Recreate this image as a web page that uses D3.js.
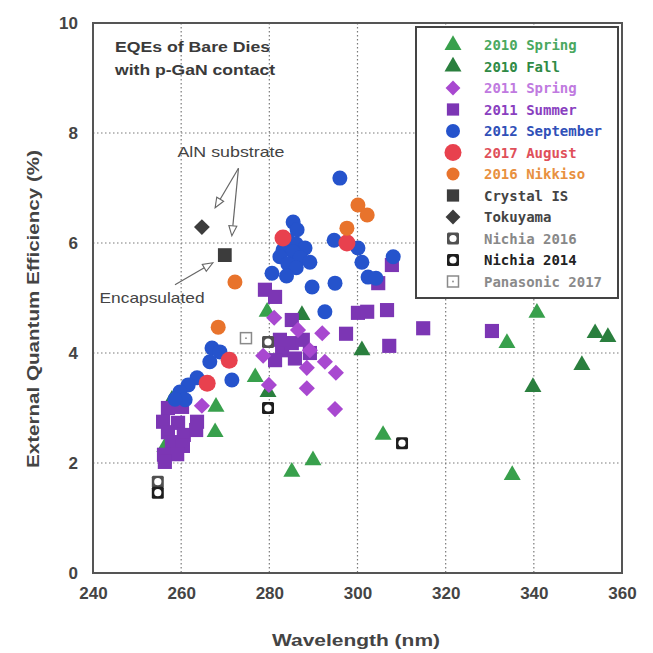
<!DOCTYPE html>
<html><head><meta charset="utf-8">
<script src="https://cdn.jsdelivr.net/npm/d3@7"></script>
<style>body{margin:0;background:#fff}</style></head>
<body><svg id="chart" width="653" height="653"></svg>
<script>
// ---- data ----
const xTicks = [240, 260, 280, 300, 320, 340, 360];
const yTicks = [0, 2, 4, 6, 8, 10];

const spring2010 = [[256.3,2.29],[267.9,3.02],[267.7,2.56],[276.8,3.56],[279.5,4.75],[285.1,1.84],[289.9,2.05],[305.8,2.51],[333.9,4.18],[340.7,4.73],[335.1,1.78]];
const fall2010 = [[257.9,3.15],[279.7,3.29],[287.4,4.69],[301.0,4.05],[339.8,3.38],[350.9,3.78],[353.9,4.36],[356.8,4.29]];
const spring2011 = [[264.7,3.04],[278.6,3.95],[279.9,3.42],[281.1,4.64],[286.5,4.42],[288.5,3.73],[288.5,3.36],[292.0,4.36],[292.6,3.84],[295.1,3.64],[294.9,2.98],[289.2,4.05]];
const summer2011 = [[257.0,3.0],[260.2,3.02],[255.9,2.75],[259.3,2.73],[263.6,2.75],[257.0,2.56],[260.6,2.51],[263.4,2.6],[257.9,2.38],[260.4,2.31],[256.1,2.15],[259.1,2.16],[256.3,2.02],
  [279.0,5.15],[281.3,5.02],[285.1,4.6],[282.9,4.05],[281.3,3.87],[285.1,4.18],[289.2,4.0],[287.6,4.24],[282.4,4.24],[285.8,3.9],[297.4,4.35],[300.1,4.73],[302.2,4.75],[306.7,4.78],[307.2,4.13],[307.8,5.6],[304.7,5.27],[314.9,4.45],[330.5,4.4]];
const september2012 = [[267.0,4.09],[268.8,4.02],[266.5,3.84],[271.5,3.51],[263.6,3.55],[261.6,3.42],[259.7,3.29],[260.9,3.15],[258.6,3.16],
  [296.0,7.18],[285.4,6.38],[286.3,6.24],[284.2,6.05],[286.1,5.98],[288.1,5.91],[283.1,5.87],[285.4,5.84],[287.0,5.73],[282.4,5.75],[289.2,5.65],[284.2,5.62],[286.1,5.55],[280.6,5.45],[283.9,5.4],[289.7,5.2],[294.9,5.27],[292.6,4.75],
  [294.7,6.05],[300.1,5.91],[301.0,5.65],[302.4,5.38],[304.2,5.36],[308.1,5.75]];
const august2017 = [[283.1,6.09],[297.6,6.0],[270.9,3.87],[265.9,3.45]];
const nikkiso2016 = [[272.2,5.29],[268.4,4.47],[300.1,6.69],[302.2,6.51],[297.6,6.27]];
const crystalIS = [[269.9,5.78]];
const tokuyama = [[264.7,6.29]];
const nichia2016 = [[254.7,1.66],[279.7,4.2]];
const nichia2014 = [[254.7,1.46],[279.7,3.0],[310.1,2.36]];
const panasonic2017 = [[274.7,4.27]];

const seriesNames = ["2010 Spring","2010 Fall","2011 Spring","2011 Summer","2012 September","2017 August","2016 Nikkiso","Crystal IS","Tokuyama","Nichia 2016","Nichia 2014","Panasonic 2017"];

// ---- layout ----
const svg = d3.select("#chart");
const x = d3.scaleLinear().domain([240, 360]).range([93, 622]);
const y = d3.scaleLinear().domain([0, 10]).range([573, 23]);
const txt = "#3a3a3a";

// grid
const g = svg.append("g");
g.selectAll(".vg").data(xTicks.slice(1, -1)).join("line")
  .attr("x1", d => x(d)).attr("x2", d => x(d)).attr("y1", y(10)).attr("y2", y(0))
  .attr("stroke", "#7a7a7a").attr("stroke-width", 1.2).attr("stroke-dasharray", "1.5,2.5");
g.selectAll(".hg").data(yTicks.slice(1, -1)).join("line")
  .attr("x1", x(240)).attr("x2", x(360)).attr("y1", d => y(d)).attr("y2", d => y(d))
  .attr("stroke", "#7a7a7a").attr("stroke-width", 1.2).attr("stroke-dasharray", "1.5,2.5");

// axes labels via d3 axes
const xAxis = svg.append("g").attr("transform", `translate(0,${y(0)})`)
  .call(d3.axisBottom(x).tickValues(xTicks).tickSize(0).tickPadding(14));
const yAxis = svg.append("g").attr("transform", `translate(${x(240)},0)`)
  .call(d3.axisLeft(y).tickValues(yTicks).tickSize(0).tickPadding(15));
[xAxis, yAxis].forEach(a => {
  a.select(".domain").remove();
  a.selectAll("text").attr("font-family", "Liberation Sans, Arial, sans-serif")
    .attr("font-weight", "bold").attr("font-size", 17).attr("fill", "#444");
});

// frame
svg.append("rect").attr("x", x(240)).attr("y", y(10)).attr("width", x(360) - x(240)).attr("height", y(0) - y(10))
  .attr("fill", "none").attr("stroke", "#555").attr("stroke-width", 2);

// axis titles
svg.append("text").attr("x", 356).attr("y", 646).attr("text-anchor", "middle")
  .attr("font-family", "Liberation Sans, Arial, sans-serif").attr("font-weight", "bold").attr("font-size", 17)
  .attr("fill", "#444").attr("textLength", 168).attr("lengthAdjust", "spacingAndGlyphs").text("Wavelength (nm)");
svg.append("text").attr("transform", "translate(39,309) rotate(-90)").attr("text-anchor", "middle")
  .attr("font-family", "Liberation Sans, Arial, sans-serif").attr("font-weight", "bold").attr("font-size", 17)
  .attr("fill", "#444").attr("textLength", 318).attr("lengthAdjust", "spacingAndGlyphs").text("External Quantum Efficiency (%)");

// ---- markers ----
const pts = svg.append("g");
function tri(data, color, s) {
  pts.selectAll(null).data(data).join("path")
    .attr("d", d3.symbol(d3.symbolTriangle, s || 125))
    .attr("transform", d => `translate(${x(d[0])},${y(d[1])})`).attr("fill", color);
}
function sq(data, color, s) {
  pts.selectAll(null).data(data).join("path")
    .attr("d", d3.symbol(d3.symbolSquare, s || 200))
    .attr("transform", d => `translate(${x(d[0])},${y(d[1])})`).attr("fill", color);
}
function dia(data, color, s) {
  pts.selectAll(null).data(data).join("path")
    .attr("d", d3.symbol(d3.symbolSquare, s || 130))
    .attr("transform", d => `translate(${x(d[0])},${y(d[1])}) rotate(45)`).attr("fill", color);
}
function circ(data, color, r) {
  pts.selectAll(null).data(data).join("circle")
    .attr("cx", d => x(d[0])).attr("cy", d => y(d[1])).attr("r", r).attr("fill", color);
}
function nichia(data, color) {
  const gg = pts.selectAll(null).data(data).join("g")
    .attr("transform", d => `translate(${x(d[0])},${y(d[1])})`);
  gg.append("rect").attr("x", -6).attr("y", -6).attr("width", 12).attr("height", 12).attr("rx", 1.5).attr("fill", color);
  gg.append("circle").attr("r", 3.6).attr("fill", "#fff");
}
function pana(data) {
  const gg = pts.selectAll(null).data(data).join("g")
    .attr("transform", d => `translate(${x(d[0])},${y(d[1])})`);
  gg.append("rect").attr("x", -5.5).attr("y", -5.5).attr("width", 11).attr("height", 11).attr("fill", "#fff")
    .attr("stroke", "#8a8a8a").attr("stroke-width", 1.5);
  gg.append("circle").attr("r", 0.9).attr("fill", "#8a8a8a");
}

const C = {
  sp10: "#38a04c", fa10: "#2a7f3e", sp11: "#a848d0", su11: "#7c36b4",
  se12: "#2553cc", au17: "#e8414e", nk16: "#e8732c", cis: "#3c3c3c", tok: "#3c3c3c",
  n16: "#505050", n14: "#1e1e1e"
};

tri(spring2010, C.sp10);
tri(fall2010, C.fa10);
sq(summer2011, C.su11);
dia(spring2011, C.sp11);
circ(september2012, C.se12, 7.5);
circ(august2017, C.au17, 8.5);
circ(nikkiso2016, C.nk16, 7.5);
sq(crystalIS, C.cis, 190);
dia(tokuyama, C.tok, 125);
nichia(nichia2016, C.n16);
nichia(nichia2014, C.n14);
pana(panasonic2017);

// ---- annotations ----
const ann = svg.append("g").attr("font-family", "Liberation Sans, Arial, sans-serif").attr("fill", txt);
ann.append("text").attr("x", x(245)).attr("y", y(9.56) + 5).attr("font-weight", "bold").attr("font-size", 14.5)
  .attr("textLength", 155).attr("lengthAdjust", "spacingAndGlyphs").text("EQEs of Bare Dies");
ann.append("text").attr("x", x(245)).attr("y", y(9.15) + 5).attr("font-weight", "bold").attr("font-size", 14.5)
  .attr("textLength", 160).attr("lengthAdjust", "spacingAndGlyphs").text("with p-GaN contact");
ann.append("text").attr("x", x(271.3)).attr("y", y(7.65) + 5).attr("text-anchor", "middle").attr("font-size", 15)
  .attr("fill", "#444").attr("textLength", 107).attr("lengthAdjust", "spacingAndGlyphs").text("AlN substrate");
ann.append("text").attr("x", x(253.4)).attr("y", y(5.0) + 5).attr("text-anchor", "middle").attr("font-size", 15)
  .attr("fill", "#444").attr("textLength", 105).attr("lengthAdjust", "spacingAndGlyphs").text("Encapsulated");

const arrows = [
  [[273.0, 7.36], [267.7, 6.64]],
  [[273.0, 7.36], [271.5, 6.13]],
  [[258.6, 5.24], [267.2, 5.64]]
];
arrows.forEach(([a, b]) => {
  const x1 = x(a[0]), y1 = y(a[1]), x2 = x(b[0]), y2 = y(b[1]);
  const ang = Math.atan2(y2 - y1, x2 - x1);
  const L = 10, W = 4;
  const bx = x2 - L * Math.cos(ang), by = y2 - L * Math.sin(ang);
  ann.append("line").attr("x1", x1).attr("y1", y1).attr("x2", bx).attr("y2", by)
    .attr("stroke", "#666").attr("stroke-width", 1.2);
  const p = [[x2, y2], [bx + W * Math.sin(ang), by - W * Math.cos(ang)], [bx - W * Math.sin(ang), by + W * Math.cos(ang)]];
  ann.append("path").attr("d", "M" + p.map(q => q.join(",")).join("L") + "Z")
    .attr("fill", "#fff").attr("stroke", "#666").attr("stroke-width", 1.1);
});

// ---- legend ----
const lg = svg.append("g");
lg.append("rect").attr("x", 416).attr("y", 27).attr("width", 202).attr("height", 271)
  .attr("fill", "#fff").attr("stroke", "#444").attr("stroke-width", 2);
const legendColors = ["#4aa860", "#2f8a45", "#c07ae0", "#8a3fc0", "#3050b8", "#e0505a", "#e89040", "#444", "#444", "#888", "#222", "#8a8a8a"];
const rowY = i => 45 + i * 21.5;
seriesNames.forEach((name, i) => {
  const cy = rowY(i), cx = 453;
  const m = lg.append("g").attr("transform", `translate(${cx},${cy})`);
  if (i === 0) m.append("path").attr("d", d3.symbol(d3.symbolTriangle, 125)).attr("fill", C.sp10);
  if (i === 1) m.append("path").attr("d", d3.symbol(d3.symbolTriangle, 125)).attr("fill", C.fa10);
  if (i === 2) m.append("path").attr("d", d3.symbol(d3.symbolSquare, 110)).attr("transform", "rotate(45)").attr("fill", C.sp11);
  if (i === 3) m.append("path").attr("d", d3.symbol(d3.symbolSquare, 150)).attr("fill", C.su11);
  if (i === 4) m.append("circle").attr("r", 7).attr("fill", C.se12);
  if (i === 5) m.append("circle").attr("r", 8.5).attr("fill", C.au17);
  if (i === 6) m.append("circle").attr("r", 6.5).attr("fill", C.nk16);
  if (i === 7) m.append("path").attr("d", d3.symbol(d3.symbolSquare, 150)).attr("fill", C.cis);
  if (i === 8) m.append("path").attr("d", d3.symbol(d3.symbolSquare, 110)).attr("transform", "rotate(45)").attr("fill", C.tok);
  if (i === 9 || i === 10) {
    m.append("rect").attr("x", -6).attr("y", -6).attr("width", 12).attr("height", 12).attr("rx", 1.5).attr("fill", i === 9 ? "#505050" : "#1e1e1e");
    m.append("circle").attr("r", 3.6).attr("fill", "#fff");
  }
  if (i === 11) {
    m.append("rect").attr("x", -5.5).attr("y", -5.5).attr("width", 11).attr("height", 11).attr("fill", "#fff").attr("stroke", "#8a8a8a").attr("stroke-width", 1.5);
    m.append("circle").attr("r", 0.9).attr("fill", "#8a8a8a");
  }
  lg.append("text").attr("x", 484).attr("y", cy + 5).attr("font-family", "DejaVu Sans Mono, monospace")
    .attr("font-weight", "bold").attr("font-size", 14).attr("fill", legendColors[i]).text(name);
});
</script>
</body></html>
